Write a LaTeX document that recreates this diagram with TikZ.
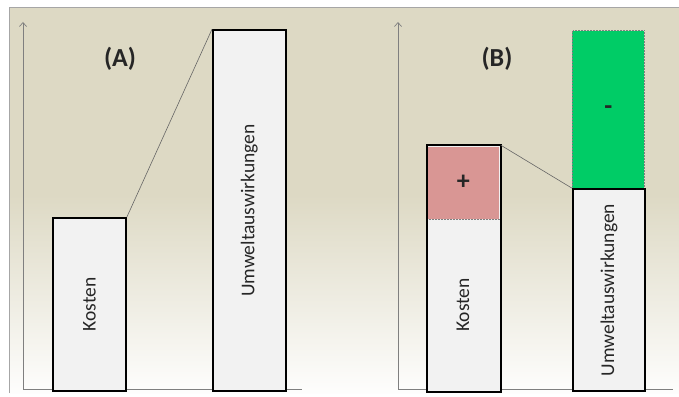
\documentclass[tikz,border=0pt]{standalone}
\usepackage{fontspec}
\setmainfont{Carlito}
\usetikzlibrary{arrows.meta}
\definecolor{tanbg}{HTML}{DDD9C4}
\definecolor{boxfill}{HTML}{F2F2F2}
\definecolor{redfill}{HTML}{D99694}
\definecolor{greenfill}{HTML}{00CC66}
\definecolor{axisgray}{HTML}{7F7F7F}
\definecolor{txt}{HTML}{262626}
\tikzset{
  bar/.style={draw=black, line width=1.8pt, fill=boxfill, inner sep=0pt, anchor=south west},
  part/.style={draw=gray, densely dotted, line width=0.5pt, inner sep=0pt, anchor=south west},
  axisline/.style={draw=axisgray, line width=0.7pt},
  lbl/.style={font=\fontsize{19.5}{22}\selectfont, text=txt, rotate=90, inner sep=0pt},
  title/.style={font=\fontsize{26}{30}\selectfont\bfseries, text=txt, inner sep=0pt},
  sign/.style={font=\fontsize{26}{30}\selectfont\bfseries, text=txt, inner sep=0pt},
  link/.style={draw=black!60, line width=0.6pt}
}
\begin{document}
\begin{tikzpicture}[x=1pt, y=-1pt]
\useasboundingbox (0,0) rectangle (679,396);
\fill[white] (0,0) rectangle (679,396);
\fill[tanbg] (9,8) rectangle (679,195);
\shade[top color=tanbg, bottom color=white!96!tanbg] (9,194.5) rectangle (679,393);
\draw[gray!70, line width=1pt] (9,8) -- (679,8);
\draw[gray!70, line width=1pt] (9,8) -- (9,393);
% panel A
\coordinate (oA) at (23,389);
\coordinate (tA) at (23,22);
\coordinate (eA) at (302,389);
\draw[axisline, -{Straight Barb[length=4pt,width=7pt]}] (oA) -- (tA);
\draw[axisline] (oA) -- (eA);
\node[bar, minimum width=73pt, minimum height=173pt] (kA) at (52,392) {};
\node[bar, minimum width=73pt, minimum height=361pt] (uA) at (212,392) {};
\node[lbl] (tkA) at (kA.center) {Kosten};
\node[lbl] (tuA) at (uA.center) {Umweltauswirkungen};
\node[title] (labA) at (120,59) {(A)};
\draw[link] (kA.north east) -- (uA.north west);
% panel B
\coordinate (oB) at (398,389);
\coordinate (tB) at (398,22);
\coordinate (eB) at (673,389);
\draw[axisline, -{Straight Barb[length=4pt,width=7pt]}] (oB) -- (tB);
\draw[axisline] (oB) -- (eB);
\node[bar, draw=none, minimum width=72pt, minimum height=245pt] (kB) at (427,392) {};
\node[part, draw=none, fill=redfill, minimum width=72pt, minimum height=72pt] (rB) at (427,219) {};
\draw[gray, densely dotted, line width=0.5pt] (rB.south west) -- (rB.south east);
\draw[black, line width=1.8pt] (kB.south west) rectangle (kB.north east);
\node[part, fill=greenfill, minimum width=72pt, minimum height=159pt] (gB) at (572,190) {};
\node[bar, minimum width=72pt, minimum height=202pt] (uB) at (572,392) {};
\node[lbl] (tkB) at (463,305) {Kosten};
\node[lbl] (tuB) at (uB.center) {Umweltauswirkungen};
\node[sign] (plus) at (rB.center) {+};
\node[sign] (minus) at (gB.center) {-};
\node[title] (labB) at (497,59) {(B)};
\draw[link] (kB.north east) -- (uB.north west);
\end{tikzpicture}
\end{document}
